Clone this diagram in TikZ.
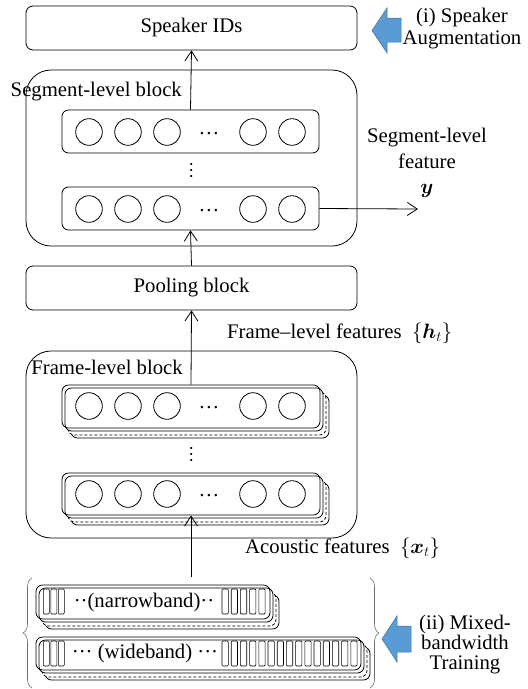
\documentclass[tikz,border=0pt]{standalone}
\usepackage{amsmath}
\usepackage{bm}
\usepackage{fontspec}
\setmainfont{Liberation Serif}
\usetikzlibrary{arrows.meta,decorations.pathreplacing,fit}

\definecolor{cuefill}{RGB}{91,155,213}
\definecolor{cueline}{RGB}{65,113,156}
\definecolor{bracegray}{RGB}{110,110,110}

% A row of units drawn with two layers behind it (solid, dashed, solid)
\newcommand{\layeredrow}[5]{%
  \draw[rowline,fill=white] (#2+9,#3+10) rectangle (#4+9,#5+10);
  \draw[rowline,fill=white,dash pattern=on 3pt off 2pt] (#2+6,#3+7) rectangle (#4+6,#5+7);
  \draw[rowline,fill=white] (#2+3,#3+3) rectangle (#4+3,#5+3);
  \node[rowbox,fit={(#2,#3) (#4,#5)}] (#1) {};
}
% Five neurons with an ellipsis, centred at height #1
\newcommand{\neurons}[1]{%
  \foreach \cx in {89,128,167,253,292} \draw[thinline] (\cx,#1) circle[radius=13.3];
  \node[label text,anchor=base] at (209,#1+2) {…};
}

\begin{document}
\begin{tikzpicture}[x=1pt,y=-1pt,
  thinline/.style={line width=0.8pt},
  rowline/.style={line width=0.8pt,rounded corners=6.5pt},
  rowbox/.style={draw,line width=0.8pt,rounded corners=6.5pt,inner sep=0pt},
  bigbox/.style={draw,line width=0.8pt,rounded corners=25pt,inner sep=0pt},
  flatbox/.style={draw,line width=0.8pt,rounded corners=7pt,inner sep=0pt},
  label text/.style={font=\fontsize{20.74}{23}\selectfont,inner sep=0pt},
  vdotstext/.style={font=\fontsize{18}{20}\selectfont,inner sep=0pt,
    text height=2.2pt,text depth=0pt,rotate=90},
  flow/.style={line width=0.8pt,-{Straight Barb[length=10pt,width=13pt]}},
  band/.style={line width=0.6pt,rounded corners=1pt},
  cue/.style={fill=cuefill,draw=cueline,line width=0.5pt},
  curly/.style={draw=bracegray,line width=0.6pt,decorate,decoration={brace,amplitude=9pt}}
]
\useasboundingbox (0,0) rectangle (528,689);

% ---- top: speaker IDs ----
\node[flatbox,fit={(26,6) (357,50)}] (spk) {};
\node[label text] (spktext) at (spk.center) {Speaker IDs};

% ---- segment-level block ----
\node[bigbox,fit={(26,70) (357,246)}] (segblock) {};
\node[label text,anchor=east] (seglabel) at (182,92) {Segment-level block};
\node[rowbox,fit={(62,110) (319,153)}] (srow1) {};
\neurons{132}
\node[vdotstext] (sdots) at (191,170) {…};
\node[rowbox,fit={(62,187) (319,230)}] (srow2) {};
\neurons{209}
\coordinate (segout) at (418,209);
\node[label text,align=center,font=\fontsize{20.74}{25.5}\selectfont] (segfeat) at (427,163)
  {Segment-level\\feature\\$\bm{y}$};

% ---- pooling block ----
\node[flatbox,fit={(26,266) (357,310)}] (pool) {};
\node[label text] (pooltext) at (pool.center) {Pooling block};
\node[label text,anchor=west] (hfeat) at (227,333) {Frame--level features \ $\{\bm{h}_t\}$};

% ---- frame-level block ----
\node[bigbox,fit={(26,351) (357,538)}] (frblock) {};
\node[label text,anchor=east] (frlabel) at (183,367) {Frame-level block};
\layeredrow{frow1}{62}{385}{320}{428}
\neurons{406}
\node[vdotstext] (fdots) at (191,454) {…};
\layeredrow{frow2}{62}{473}{320}{515}
\neurons{494}

% ---- acoustic features ----
\coordinate (acin) at (191,577);
\node[label text,anchor=west] (xfeat) at (245,548) {Acoustic features \ $\{\bm{x}_t\}$};

% narrowband frames
\layeredrow{nrow}{36}{585}{270}{619}
\foreach \k in {0,1,2} \draw[band] (43.3+7.5*\k,589) rectangle ++(6,25);
\foreach \k in {0,...,4} \draw[band] (222+9.2*\k,589) rectangle ++(6.3,25);
\node[label text] (ntext) at (144,603) {··(narrowband)··};

% wideband frames
\layeredrow{wrow}{36}{637}{361}{670}
\foreach \k in {0,1,2} \draw[band] (43.3+7.5*\k,641) rectangle ++(6,25);
\foreach \k in {0,...,14} \draw[band] (222+9.2*\k,641) rectangle ++(6.3,25);
\node[label text] (wtext) at (145,654) {··· (wideband) ···};

% braces around the two input types
\draw[curly] (32,688) -- (32,578);
\draw[curly] (370,578) -- (370,688);

% ---- connectors ----
\draw[flow] (srow1.north) -- (spk.south);
\draw[flow] (srow2.east) -- (segout);
\draw[flow] (pool.north) -- (srow2.south);
\draw[flow] (frow1.north) -- (pool.south);
\draw[flow] (acin) -- (frow2.south);

% ---- training cues ----
\draw[cue] (401,18) -- (387,18) -- (387,8) -- (372,30.5) -- (387,53) -- (387,42) -- (401,42) -- cycle;
\node[label text,align=center,font=\fontsize{20.74}{22}\selectfont] (cue1) at (462,29)
  {(i) Speaker\\Augmentation};
\draw[cue] (411,626) -- (397,626) -- (397,616) -- (382,639) -- (397,662) -- (397,652) -- (411,652) -- cycle;
\node[label text,align=center,font=\fontsize{20.74}{20}\selectfont] (cue2) at (465,645)
  {(ii) Mixed-\\bandwidth\\Training};
\end{tikzpicture}
\end{document}
